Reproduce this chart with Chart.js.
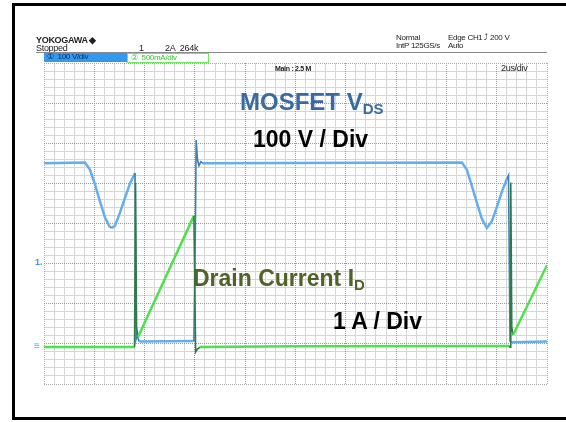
<!DOCTYPE html>
<html lang="en">
<head>
<meta charset="UTF-8">
<title>MOSFET switching waveform</title>
<style>
    body { margin: 0; width: 566px; height: 422px; background: #fff; position: relative; overflow: hidden;
           font-family: "Liberation Sans", Arial, sans-serif; }
    #scope { position: absolute; left: 0; top: 0; }
    .bar { position: absolute; background: #000; }
    .t { position: absolute; white-space: nowrap; line-height: 1; }
    .small { font-size: 9px; color: #222; letter-spacing: -0.3px; }
    .big { font-weight: bold; font-size: 23px; color: #000; }
    .big sub { font-size: 15px; vertical-align: -4px; }
</style>
</head>
<body>
<canvas id="scope" width="566" height="422"></canvas>

<!-- outer frame -->
<div class="bar" style="left:12px;top:3px;width:554px;height:3px"></div>
<div class="bar" style="left:12px;top:3px;width:3px;height:417px"></div>
<div class="bar" style="left:12px;top:417px;width:554px;height:3px"></div>

<!-- scope header -->
<div class="t small" style="left:36px;top:36px;font-weight:bold">YOKOGAWA &#9670;</div>
<div class="t small" style="left:36px;top:44px">Stopped</div>
<div class="t small" style="left:139px;top:44px">1</div>
<div class="t small" style="left:165px;top:44px">2A&nbsp;&nbsp;264&#8203;k</div>
<div class="t small" style="left:396px;top:34px;font-size:8px">Normal</div>
<div class="t small" style="left:396px;top:42px;font-size:8px">IntP&nbsp;125GS/s</div>
<div class="t small" style="left:448px;top:34px;font-size:8px">Edge CH1 &#10548; 200 V</div>
<div class="t small" style="left:448px;top:42px;font-size:8px">Auto</div>
<div style="position:absolute;left:36px;top:52px;width:511px;height:1px;background:#888"></div>
<div class="t small" style="left:44px;top:53px;width:83px;height:9px;font-size:8px;background:#3399ee;color:#0a2a55;padding-left:3px;box-sizing:border-box">&#9312;&nbsp; 100 V/div</div>
<div class="t small" style="left:127px;top:53px;width:82px;height:10px;font-size:8px;border:1px solid #66ee55;color:#2ecc2e;padding-left:3px;box-sizing:border-box">&#9313;&nbsp; 500mA/div</div>
<div class="t small" style="left:275px;top:65px;font-size:7px;font-weight:bold">Main : 2.5 M</div>
<div class="t small" style="left:501px;top:64px;font-size:9px">2us/div</div>

<!-- channel markers -->
<div class="t" style="left:35px;top:258px;font-size:9px;font-weight:bold;color:#3399ee">1.</div>
<div class="t" style="left:34px;top:341px;font-size:10px;color:#5aa8ee">&#8801;</div>

<!-- annotations -->
<div class="t big" style="left:240px;top:90px;font-size:24px;color:#3b6aa0">MOSFET V<sub>DS</sub></div>
<div class="t big" style="left:253px;top:128px">100 V / Div</div>
<div class="t big" style="left:193px;top:267px;color:#4f6228">Drain Current I<sub>D</sub></div>
<div class="t big" style="left:333px;top:310px">1 A / Div</div>

<script src="https://cdn.jsdelivr.net/npm/chart.js@4.4.0/dist/chart.umd.min.js"></script>
<script>
    // time in us (2 us/div, 10 div)
    var vdsTime = [0, 1.63, 1.83, 2.03, 2.23, 2.43, 2.62, 2.70, 2.82, 3.02, 3.22, 3.42, 3.62, 3.66, 3.70, 3.78, 5.96,
                   6.02, 6.05, 6.10, 6.16, 6.24, 6.32, 16.62, 16.82, 17.02, 17.22, 17.41, 17.61, 17.81, 18.01, 18.21,
                   18.41, 18.47, 18.53, 18.60, 20];
    // MOSFET Vds in volts
    var vdsVolts = [458, 460, 442, 405, 362, 322, 299, 297, 302, 335, 372, 408, 434, 20, 30, 14, 15,
                    300, 516, 468, 452, 462, 458, 460, 441, 400, 358, 320, 297, 314, 350, 388,
                    420, 428, 15, 12, 14];

    var idTime = [0, 3.60, 3.64, 3.68, 3.74, 5.96, 6.03, 6.10, 6.20, 10, 18.50, 18.53, 18.56, 18.60, 18.65, 20];
    // drain current in amps
    var idAmps = [0, 0, 4.09, 0.5, 0.25, 3.27, -0.12, -0.05, 0, 0.02, 0.03, 0, 4.1, 0.5, 0.3, 2.04];

    function pairs(xs, ys) {
        return xs.map(function(x, i) { return {x: x, y: ys[i]}; });
    }

    // the fast edges show up as thin dark strokes on the scope
    function edge(c) {
        return Math.abs(c.p1.x - c.p0.x) < 3;
    }

    var minorGrid = '#d6d6d6';
    var majorGrid = '#9a9a9a';

    new Chart(document.getElementById('scope').getContext('2d'), {
        type: 'line',
        data: {
            datasets: [{
                label: 'Id',
                data: pairs(idTime, idAmps),
                xAxisID: 'x',
                yAxisID: 'yA',
                borderColor: '#4be24b',
                borderWidth: 2.5,
                segment: {
                    borderColor: function(c) { return edge(c) ? '#2f7a4a' : undefined; },
                    borderWidth: function(c) { return edge(c) ? 1.6 : undefined; }
                },
                pointRadius: 0,
                tension: 0,
                order: 0
            }, {
                label: 'Vds',
                data: pairs(vdsTime, vdsVolts),
                xAxisID: 'x',
                yAxisID: 'yV',
                borderColor: '#62aef0',
                borderWidth: 2.5,
                segment: {
                    borderColor: function(c) { return edge(c) ? '#3d7fb0' : undefined; },
                    borderWidth: function(c) { return edge(c) ? 1.6 : undefined; }
                },
                pointRadius: 0,
                tension: 0,
                order: 1
            }]
        },
        options: {
            responsive: false,
            animation: false,
            layout: { padding: { left: 44, top: 63, right: 19, bottom: 38 } },
            plugins: { legend: { display: false }, tooltip: { enabled: false } },
            scales: {
                x: { type: 'linear', axis: 'x', min: 0, max: 20, display: false },
                yV: { type: 'linear', axis: 'y', min: -92, max: 708, display: false },
                yA: { type: 'linear', axis: 'y', min: -0.92, max: 7.08, display: false },
                // fine graticule (5 per division)
                gx: {
                    type: 'linear', axis: 'x', position: 'bottom', min: 0, max: 50,
                    ticks: { display: false, stepSize: 1 },
                    grid: { drawTicks: false, color: function(c) { return c.tick.value % 5 === 0 ? 'rgba(0,0,0,0)' : minorGrid; } },
                    border: { display: false }
                },
                gy: {
                    type: 'linear', axis: 'y', position: 'left', min: 0, max: 40,
                    ticks: { display: false, stepSize: 1 },
                    grid: { drawTicks: false, color: function(c) { return c.tick.value % 5 === 0 ? 'rgba(0,0,0,0)' : minorGrid; } },
                    border: { display: false }
                },
                // division lines
                gX: {
                    type: 'linear', axis: 'x', position: 'top', min: 0, max: 10,
                    ticks: { display: false, stepSize: 1 },
                    grid: { drawTicks: false, color: function(c) { return (c.tick.value === 0 || c.tick.value === 10) ? '#aaa' : majorGrid; } },
                    border: { display: false, dash: [1, 1] }
                },
                gY: {
                    type: 'linear', axis: 'y', position: 'right', min: 0, max: 8,
                    ticks: { display: false, stepSize: 1 },
                    grid: { drawTicks: false, color: function(c) { return (c.tick.value === 0 || c.tick.value === 8) ? '#aaa' : majorGrid; } },
                    border: { display: false, dash: [1, 1] }
                }
            }
        }
    });
</script>
</body>
</html>
